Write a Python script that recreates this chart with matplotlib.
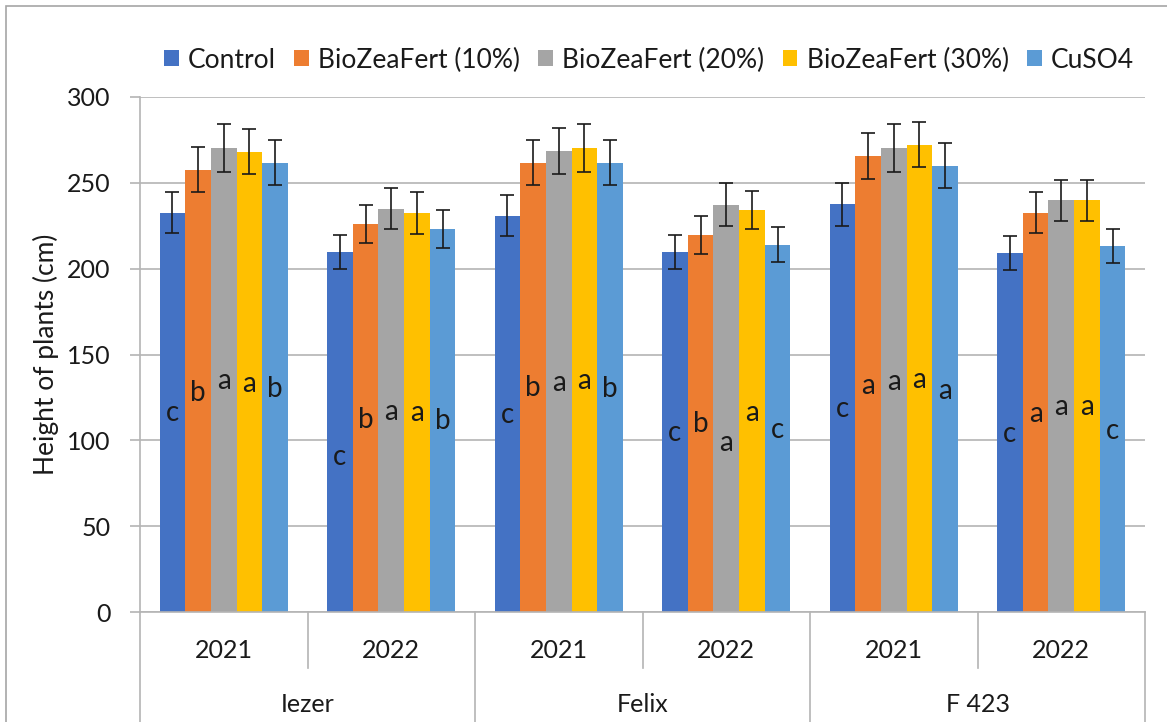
import numpy as np
import matplotlib.pyplot as plt
from matplotlib.patches import Rectangle
from matplotlib.transforms import blended_transform_factory

plt.rcParams['font.family'] = ['Lato', 'DejaVu Sans']

# data
varieties = ['Iezer', 'Felix', 'F 423']
years = ['2021', '2022']
treatments = ['Control', 'BioZeaFert (10%)', 'BioZeaFert (20%)', 'BioZeaFert (30%)', 'CuSO4']

control = [232.6, 209.9, 230.9, 209.9, 237.5, 209.1]
bz10 = [257.7, 226.2, 261.7, 219.6, 265.6, 232.6]
bz20 = [270.5, 234.9, 268.7, 237.3, 270.5, 239.8]
bz30 = [268.1, 232.4, 270.5, 234.2, 272.2, 239.8]
cuso4 = [261.7, 222.9, 261.7, 214.0, 260.0, 213.2]

err_control = [12, 10, 12, 10, 12.4, 10]
err_bz10 = [13, 11, 13, 11, 13.4, 12]
err_bz20 = [14, 12, 13.5, 12.6, 14, 12]
err_bz30 = [13, 12, 14, 11, 13, 12]
err_cuso4 = [13, 11, 13, 10, 13, 10]

let_control = ['c', 'c', 'c', 'c', 'c', 'c']
let_bz10 = ['b', 'b', 'b', 'b', 'a', 'a']
let_bz20 = ['a', 'a', 'a', 'a', 'a', 'a']
let_bz30 = ['a', 'a', 'a', 'a', 'a', 'a']
let_cuso4 = ['b', 'b', 'b', 'c', 'a', 'c']

# baseline height of the letters
lpos_control = [111.4, 85.6, 109.9, 99.8, 113.4, 98.8]
lpos_bz10 = [122.9, 107.0, 125.8, 104.7, 127.0, 110.9]
lpos_bz20 = [129.9, 111.8, 128.7, 94.0, 129.3, 114.8]
lpos_bz30 = [128.0, 111.5, 130.0, 111.3, 130.5, 114.8]
lpos_cuso4 = [125.4, 106.4, 125.4, 101.2, 124.1, 100.6]

series = [control, bz10, bz20, bz30, cuso4]
errors = [err_control, err_bz10, err_bz20, err_bz30, err_cuso4]
letters = [let_control, let_bz10, let_bz20, let_bz30, let_cuso4]
lpos = [lpos_control, lpos_bz10, lpos_bz20, lpos_bz30, lpos_cuso4]
colors = ['#4472C4', '#ED7D31', '#A5A5A5', '#FFC000', '#5B9BD5']

W, H = 1167, 722
fs = 18
fig = plt.figure(figsize=(W / 100, H / 100), dpi=100)
ax = fig.add_axes([140 / W, (H - 612) / H, (1145 - 140) / W, (612 - 97) / H])

ncat = len(varieties) * len(years)
x = np.arange(ncat) + 0.5
bw = 0.153
for i, (vals, e, col) in enumerate(zip(series, errors, colors)):
    xi = x + (i - 2) * bw
    ax.bar(xi, vals, bw, color=col, label=treatments[i], zorder=2)
    ax.errorbar(xi, vals, yerr=e, fmt='none', ecolor='#1a1a1a', elinewidth=1.2,
                capsize=5, capthick=1.2, zorder=3)
    for xx, t, yy in zip(xi, letters[i], lpos[i]):
        ax.text(xx, yy, t, ha='center', va='baseline', fontsize=20, color='#1a1a1a', zorder=4)

ax.set_xlim(0, ncat)
ax.set_ylim(0, 300)
ax.set_yticks(np.arange(0, 301, 50))
ax.yaxis.grid(True, color='#B4B4B4', linewidth=1.2, zorder=0)
ax.set_axisbelow(True)
for s in ['top', 'right', 'bottom']:
    ax.spines[s].set_visible(False)
ax.spines['left'].set_color('#B4B4B4')
ax.spines['left'].set_linewidth(1.2)
ax.tick_params(axis='y', length=7, color='#B4B4B4', width=1.2, labelsize=fs,
               labelcolor='#1a1a1a', pad=14)
ax.set_xticks([])
ax.set_ylabel('Height of plants (cm)', fontsize=19, color='#1a1a1a', labelpad=6)

# two-level category axis
tr = blended_transform_factory(ax.transData, ax.transAxes)
hpx = 612 - 97
y_year = -(668 - 612) / hpx
y_grp = -(730 - 612) / hpx
ax.plot([0, ncat], [0, 0], transform=tr, color='#B4B4B4', lw=1.2, clip_on=False)
ax.plot([0, 0], [0, y_grp], transform=tr, color='#B4B4B4', lw=1.2, clip_on=False)
for k in range(1, ncat + 1):
    yb = y_grp if k % 2 == 0 else y_year
    ax.plot([k, k], [0, yb], transform=tr, color='#B4B4B4', lw=1.2, clip_on=False)
for k in range(ncat):
    ax.text(k + 0.5, -(650 - 612) / hpx, years[k % 2], transform=tr, ha='center',
            va='center', fontsize=fs, color='#1a1a1a')
for g, name in enumerate(varieties):
    ax.text(2 * g + 1, -(705 - 612) / hpx, name, transform=tr, ha='center',
            va='center', fontsize=fs, color='#1a1a1a')

ax.legend(loc='center', bbox_to_anchor=(649 / W, 1 - 60 / H), bbox_transform=fig.transFigure,
          ncol=5, frameon=False, fontsize=19, handlelength=0.55, handleheight=0.55,
          handletextpad=0.35, columnspacing=0.7, labelcolor='#1a1a1a')

fig.patches.append(Rectangle((6 / W, -0.1), 1.2, 1.1 - 6 / H, transform=fig.transFigure,
                             fill=False, edgecolor='#A6A6A6', linewidth=1.2))

fig.savefig('out.png', dpi=100)
